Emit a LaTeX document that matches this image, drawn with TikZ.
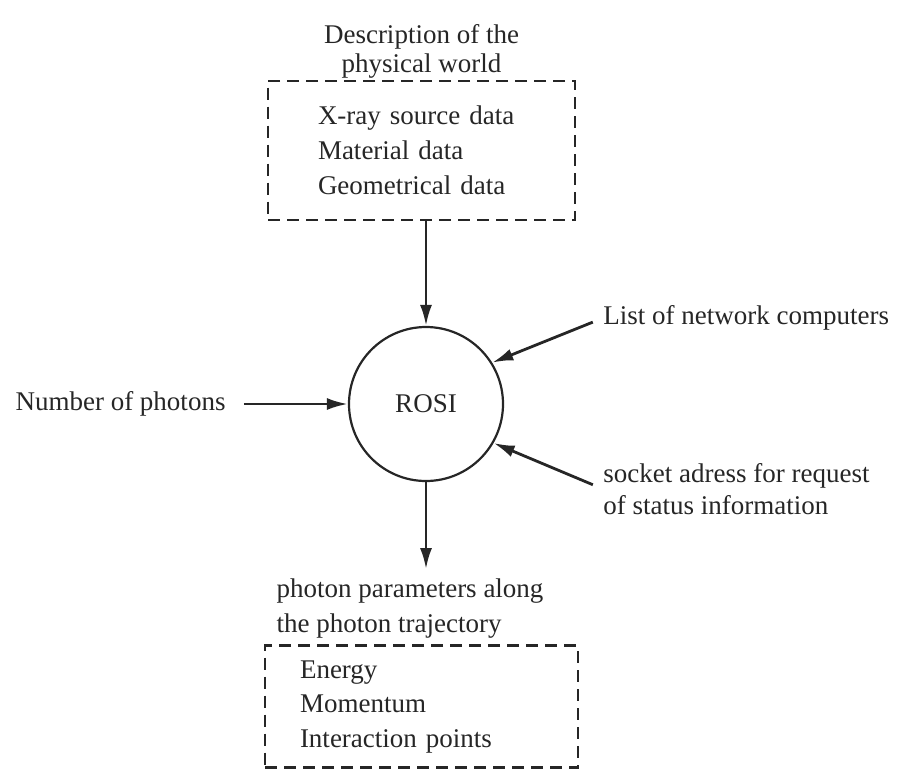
\documentclass[tikz,border=0pt]{standalone}
\usepackage{fontspec}
\setmainfont{Liberation Serif}
\usetikzlibrary{positioning,arrows.meta}

\begin{document}
\begin{tikzpicture}[x=0.5pt,y=-0.5pt,>={Latex[length=10.5pt,width=6pt]},
  font=\fontsize{13.5}{17.3}\selectfont,color=black!85]
\tikzstyle{proc}=[draw,circle,line width=1.1pt,minimum size=77pt,inner sep=0pt]
\tikzstyle{dbox}=[draw,dash pattern=on 6pt off 3.5pt,line width=1.2pt,
  align=left,inner ysep=0pt]
\tikzstyle{lbl}=[inner sep=0pt,align=left]
\tikzstyle{flow}=[->,line width=1.4pt]
\useasboundingbox (0,0) rectangle (899,772);

\node[proc] (rosi) at (426,404) {ROSI};

\node[dbox,above=52.5pt of rosi,xshift=-2.25pt,minimum width=153.5pt,
  minimum height=69.5pt,text width=103.5pt,inner xsep=25pt] (world)
  {X-ray source data\\ Material data\\ Geometrical data};
\node[lbl,align=center,font=\fontsize{13.5}{14.5}\selectfont,above=0.5pt of world]
  (worldlbl) {Description of the\\ physical world};
\draw[flow] (world.south -| rosi.north) -- (rosi.north);

\node[lbl,left=61pt of rosi] (photons) {Number of photons};
\draw[flow,shorten <=9pt] (photons.east) -- (rosi.west);

\node[lbl,anchor=west] (netlist) at (603,318) {List of network computers};
\draw[flow,shorten <=5.5pt] (netlist.west) -- (rosi.32);

\node[lbl,anchor=west,font=\fontsize{13.5}{16}\selectfont] (socket) at (603,489)
  {socket adress for request\\ of status information};
\draw[flow,shorten <=5.5pt] (socket.west) -- (rosi.-30);

\node[lbl,below=48pt of rosi,xshift=-8pt,font=\fontsize{13.5}{17.5}\selectfont]
  (traj) {photon parameters along\\ the photon trajectory};
\draw[flow,shorten >=4.5pt] (rosi.south) -- (rosi.south |- traj.north);

\node[dbox,below=3pt of traj,xshift=5.75pt,minimum width=156.5pt,
  minimum height=61pt,text width=121.5pt,inner xsep=17.5pt] (params)
  {Energy\\ Momentum\\ Interaction points};
\end{tikzpicture}
\end{document}
